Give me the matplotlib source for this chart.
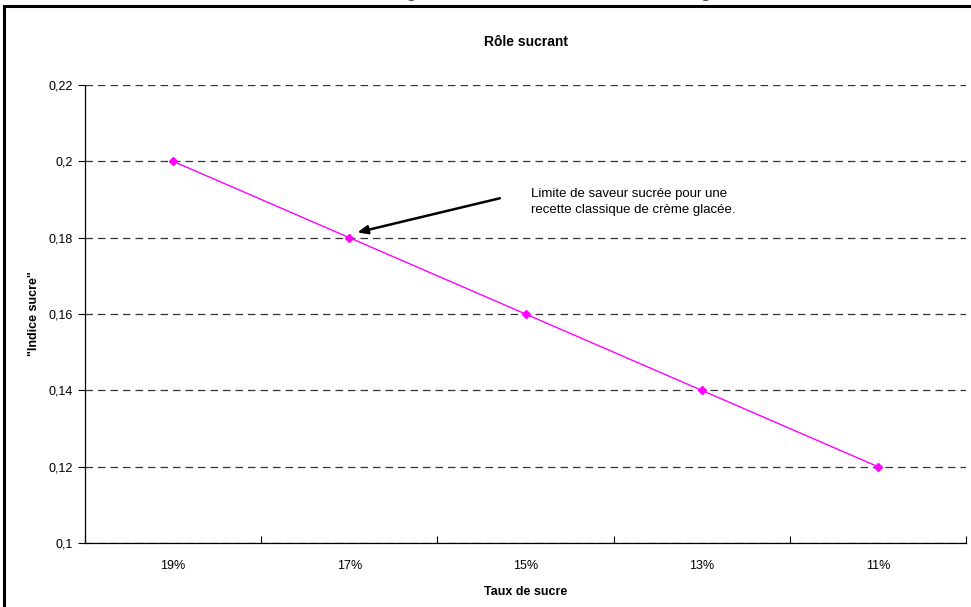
import matplotlib.pyplot as plt
from matplotlib.patches import Rectangle

# Data
categories = ['19%', '17%', '15%', '13%', '11%']
indice_sucre = [0.20, 0.18, 0.16, 0.14, 0.12]
y_ticks = [0.10, 0.12, 0.14, 0.16, 0.18, 0.20, 0.22]
y_tick_labels = ['0,1', '0,12', '0,14', '0,16', '0,18', '0,2', '0,22']
note = 'Limite de saveur sucrée pour une\nrecette classique de crème glacée.'

plt.rcParams['font.family'] = ['Liberation Sans', 'DejaVu Sans']

fig = plt.figure(figsize=(9.71, 6.07), dpi=100)
ax = fig.add_axes([0.0875, 0.1054, 0.9074, 0.7546])

x = list(range(len(categories)))
ax.plot(x, indice_sucre, color='#FF00FF', linewidth=1, marker='D',
        markersize=4, zorder=3)

ax.set_xlim(-0.5, len(categories) - 0.5)
ax.set_ylim(0.10, 0.22)
ax.set_yticks(y_ticks)
ax.set_yticklabels(y_tick_labels, fontsize=9)
ax.set_xticks(x)
ax.set_xticklabels(categories, fontsize=9)
ax.tick_params(axis='x', length=0, pad=12)
ax.set_xticks([i - 0.5 for i in range(len(categories) + 1)], minor=True)
ax.tick_params(axis='x', which='minor', direction='in', length=5, width=0.8)
ax.tick_params(axis='y', direction='out', length=5, width=0.8)

ax.grid(axis='y', color='#333333', linestyle=(0, (6, 4)), linewidth=0.9)
ax.set_axisbelow(True)
for side in ['top', 'right']:
    ax.spines[side].set_visible(False)
ax.spines['left'].set_linewidth(0.9)
ax.spines['bottom'].set_linewidth(0.9)

ax.set_xlabel('Taux de sucre', fontsize=9, fontweight='bold', labelpad=10)
ax.set_ylabel('"Indice sucre"', fontsize=9, fontweight='bold', labelpad=6)
ax.set_title('Rôle sucrant', fontsize=10, fontweight='bold', pad=28)

ax.annotate('', xy=(1.03, 0.1812), xytext=(1.87, 0.1905),
            arrowprops=dict(arrowstyle='-|>,head_length=0.6,head_width=0.25',
                            color='black', linewidth=1.8))
ax.text(2.03, 0.1893, note, fontsize=9.5, va='center', ha='left', linespacing=1.5)

# outer chart frame (extends past the right and bottom edges)
fig.patches.append(Rectangle((0.0041, -0.05), 1.05, 1.04, transform=fig.transFigure,
                             fill=False, edgecolor='black', linewidth=2.2))
# document title, cut off above the image (only descenders show)
fig.text(0.589, 1.004, 'Figure 1 : Rôle du sucre dans la crème glacée',
         fontsize=12, fontweight='bold', ha='center', va='baseline', color='#444444')

fig.savefig('out.png', dpi=100)
